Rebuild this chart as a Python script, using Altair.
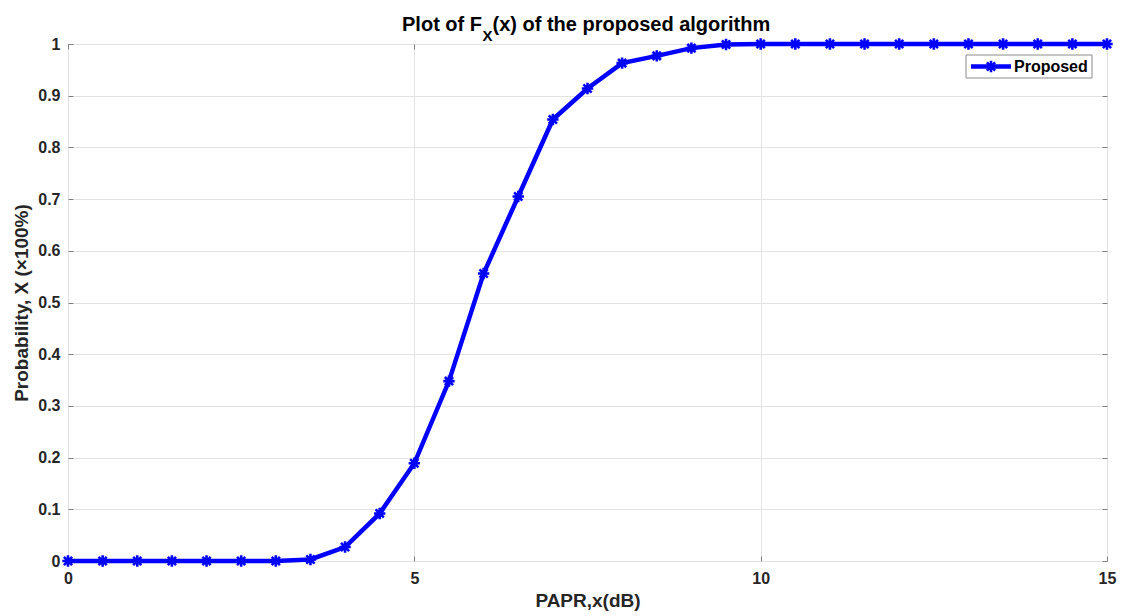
import altair as alt
import pandas as pd

# PAPR threshold (dB) and empirical CDF value at each threshold
papr_db = [0, 0.5, 1, 1.5, 2, 2.5, 3, 3.5, 4, 4.5, 5, 5.5, 6, 6.5, 7, 7.5,
           8, 8.5, 9, 9.5, 10, 10.5, 11, 11.5, 12, 12.5, 13, 13.5, 14, 14.5, 15]
cdf = [0, 0, 0, 0, 0, 0, 0, 0.003, 0.027, 0.092, 0.189, 0.348, 0.556, 0.705,
       0.854, 0.914, 0.963, 0.977, 0.992, 0.999, 1, 1, 1, 1, 1, 1, 1, 1, 1, 1, 1]
series_name = "Proposed"

x_ticks = [0, 5, 10, 15]
y_ticks = [0, 0.1, 0.2, 0.3, 0.4, 0.5, 0.6, 0.7, 0.8, 0.9, 1]

title_main = "Plot of F"
title_sub = "X"
title_rest = "(x) of the proposed algorithm"
x_title = "PAPR,x(dB)"
y_title = "Probability, X (\u00d7100%)"

df = pd.DataFrame({"papr": papr_db, "cdf": cdf, "series": series_name})

FONT = "Liberation Sans"
BLUE = "#0000ff"
AXIS_GREY = "#7f7f7f"
W, H = 1039, 517

asterisk = ("M-1,0L1,0M0,-1L0,1M-0.72,-0.72L0.72,0.72M-0.72,0.72L0.72,-0.72")

x_scale = alt.Scale(domain=[0, 15], nice=False, zero=False)
y_scale = alt.Scale(domain=[0, 1], nice=False, zero=False)

x_axis = alt.Axis(
    values=x_ticks, format="~g", title=x_title, orient="bottom",
    offset=-5, tickSize=5, tickColor=AXIS_GREY, domain=False,
    labelPadding=9, labelFlush=False, labelFont=FONT, labelFontSize=16,
    labelFontWeight="bold", labelColor="#262626",
    titleFont=FONT, titleFontSize=19, titleFontWeight="bold", titleColor="#262626",
    titleX=W / 2, titleY=44, titleBaseline="middle",
    grid=True, gridColor="#e2e2e2", gridWidth=1,
)
y_axis = alt.Axis(
    values=y_ticks, format="~g", title=y_title, orient="left",
    offset=-5, tickSize=5, tickColor=AXIS_GREY, domain=False,
    labelPadding=8, labelFont=FONT, labelFontSize=16,
    labelFontWeight="bold", labelColor="#262626",
    titleFont=FONT, titleFontSize=19, titleFontWeight="bold", titleColor="#262626",
    titleAngle=270, titleX=-52, titleY=H / 2, titleBaseline="middle",
    titleAlign="center",
    grid=True, gridColor="#e2e2e2", gridWidth=1,
)

base = alt.Chart(df)

curve = base.mark_line(color=BLUE, strokeWidth=4.5).encode(
    x=alt.X("papr:Q", scale=x_scale, axis=x_axis),
    y=alt.Y("cdf:Q", scale=y_scale, axis=y_axis),
)
markers = base.mark_point(
    shape=asterisk, color=BLUE, filled=False, strokeWidth=2.6, size=130, opacity=1
).encode(
    x=alt.X("papr:Q", scale=x_scale, axis=None),
    y=alt.Y("cdf:Q", scale=y_scale, axis=None),
)

# inward ticks on the top and right edges of the box
box_ticks = base.mark_point(opacity=0).encode(
    x=alt.X("papr:Q", scale=x_scale, axis=alt.Axis(
        orient="top", values=x_ticks, labels=False, title=None, domain=False,
        grid=False, offset=-5, tickSize=5, tickColor=AXIS_GREY)),
    y=alt.Y("cdf:Q", scale=y_scale, axis=alt.Axis(
        orient="right", values=y_ticks, labels=False, title=None, domain=False,
        grid=False, offset=-5, tickSize=5, tickColor=AXIS_GREY)),
)

one = alt.Data(values=[{"k": 0}])

# legend box
leg_box = alt.Chart(one).mark_rect(
    fill="white", stroke="#8c8c8c", strokeWidth=1
).encode(x=alt.value(898), x2=alt.value(1024), y=alt.value(11), y2=alt.value(34))
leg_line = alt.Chart(one).mark_rule(color=BLUE, strokeWidth=4.5).encode(
    x=alt.value(903), x2=alt.value(943), y=alt.value(22.5))
leg_marker = alt.Chart(one).mark_point(
    shape=asterisk, color=BLUE, filled=False, strokeWidth=2.6, size=130, opacity=1
).encode(x=alt.value(923), y=alt.value(22.5))
leg_text = alt.Chart(one).mark_text(
    align="left", baseline="middle", font=FONT, fontSize=16, fontWeight="bold",
    color="#000000"
).encode(x=alt.value(946), y=alt.value(23), text=alt.value(series_name))

# title with subscript
split_x = 414
t1 = alt.Chart(one).mark_text(
    align="right", baseline="alphabetic", font=FONT, fontSize=20, fontWeight="bold",
    color="#000000"
).encode(x=alt.value(split_x), y=alt.value(-13.5), text=alt.value(title_main))
t2 = alt.Chart(one).mark_text(
    align="left", baseline="alphabetic", font=FONT, fontSize=15, fontWeight="bold",
    color="#000000"
).encode(x=alt.value(split_x + 0.5), y=alt.value(-3.5), text=alt.value(title_sub))
t3 = alt.Chart(one).mark_text(
    align="left", baseline="alphabetic", font=FONT, fontSize=20, fontWeight="bold",
    color="#000000"
).encode(x=alt.value(split_x + 10.5), y=alt.value(-13.5), text=alt.value(title_rest))

chart = alt.layer(
    curve, markers, box_ticks, leg_box, leg_line, leg_marker, leg_text, t1, t2, t3
).resolve_axis(
    x="independent", y="independent"
).properties(
    width=W, height=H,
    autosize=alt.AutoSizeParams(type="none"),
    padding={"left": 68, "top": 44, "right": 17, "bottom": 55},
    background="white",
).configure_view(
    stroke=AXIS_GREY, strokeWidth=1
)

chart.save("out.html", embed_options={"renderer": "svg", "actions": False})
